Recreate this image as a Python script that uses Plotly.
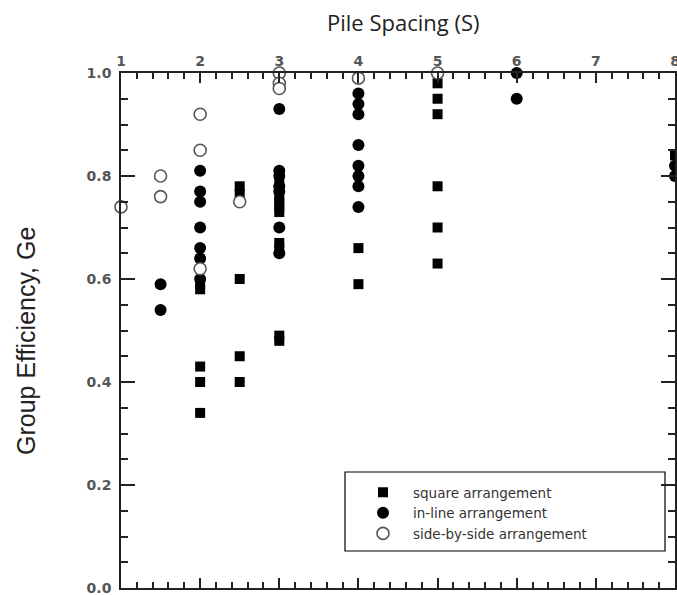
import plotly.graph_objects as go

# Square arrangement
sq_x = [2, 2, 2, 2, 2, 2.5, 2.5, 2.5, 2.5, 2.5, 3, 3, 3, 3, 3, 3, 3, 3, 3, 4, 4, 5, 5, 5, 5, 5, 5, 8]
sq_y = [0.59, 0.58, 0.43, 0.40, 0.34, 0.78, 0.765, 0.60, 0.45, 0.40,
        0.79, 0.76, 0.75, 0.74, 0.73, 0.67, 0.66, 0.49, 0.48,
        0.66, 0.59, 0.98, 0.95, 0.92, 0.78, 0.70, 0.63, 0.84]

# In-line arrangement
il_x = [1.5, 1.5, 2, 2, 2, 2, 2, 2, 2, 3, 3, 3, 3, 3, 3, 3,
        4, 4, 4, 4, 4, 4, 4, 4, 6, 6, 8, 8]
il_y = [0.59, 0.54, 0.81, 0.77, 0.75, 0.70, 0.66, 0.64, 0.60,
        0.93, 0.81, 0.80, 0.78, 0.77, 0.70, 0.65,
        0.96, 0.94, 0.92, 0.86, 0.82, 0.80, 0.78, 0.74, 1.0, 0.95, 0.82, 0.80]

# Side-by-side arrangement
sb_x = [1, 1.5, 1.5, 2, 2, 2, 2.5, 3, 3, 3, 4, 5]
sb_y = [0.74, 0.80, 0.76, 0.92, 0.85, 0.62, 0.75, 1.0, 0.98, 0.97, 0.99, 1.0]

x_ticks = [1, 2, 3, 4, 5, 6, 7, 8]
y_ticks = [0.0, 0.2, 0.4, 0.6, 0.8, 1.0]

fig = go.Figure()
fig.add_trace(go.Scatter(x=sq_x, y=sq_y, mode="markers", name="square arrangement",
                         marker=dict(symbol="square", size=10, color="black"),
                         cliponaxis=False))
fig.add_trace(go.Scatter(x=il_x, y=il_y, mode="markers", name="in-line arrangement",
                         marker=dict(symbol="circle", size=12, color="black"),
                         cliponaxis=False))
fig.add_trace(go.Scatter(x=sb_x, y=sb_y, mode="markers", name="side-by-side arrangement",
                         marker=dict(symbol="circle", size=12, color="white",
                                     line=dict(color="#555", width=1.6)),
                         cliponaxis=False))

tickfont = dict(family="DejaVu Sans", size=14, color="#555", weight="bold")
axis_common = dict(showline=True, linecolor="#222", linewidth=1.6, mirror="ticks",
                   ticks="inside", tickcolor="#222", tickwidth=1.6, showgrid=False,
                   zeroline=False, tickfont=tickfont, automargin=False,
                   ticklabeloverflow="allow")

fig.update_xaxes(range=[1, 8], side="top", tickvals=x_ticks, ticklen=10,
                 minor=dict(dtick=0.2, ticks="inside", ticklen=6, tickcolor="#222", showgrid=False),
                 ticklabelstandoff=0,
                 **axis_common)
fig.update_yaxes(range=[0, 1], tickvals=y_ticks, tickformat=".1f", ticklen=14,
                 minor=dict(dtick=0.05, ticks="inside", ticklen=7, tickcolor="#222", showgrid=False),
                 ticklabelstandoff=5,
                 **axis_common)

fig.add_annotation(text="Pile Spacing (S)", xref="paper", yref="paper",
                   x=(403 - 121) / 554, y=1 + (73 - 22) / 515, xanchor="center", yanchor="middle",
                   showarrow=False, font=dict(family="Open Sans", size=22, color="#222"))
fig.add_annotation(text="Group Efficiency, Ge", xref="paper", yref="paper",
                   x=-(121 - 26) / 554, y=(588 - 341) / 515, xanchor="center", yanchor="middle",
                   textangle=-90, showarrow=False,
                   font=dict(family="Liberation Sans", size=25, color="#222"))

# legend frame
fig.add_shape(type="rect", xref="paper", yref="paper",
              x0=(345 - 121) / 554, x1=(665 - 121) / 554,
              y0=(588 - 551) / 515, y1=(588 - 472) / 515,
              line=dict(color="black", width=1.2), fillcolor="white", layer="below")

fig.update_layout(
    width=677, height=595,
    margin=dict(l=121, r=2, t=73, b=7),
    paper_bgcolor="white", plot_bgcolor="rgba(0,0,0,0)",
    showlegend=True,
    legend=dict(x=(353 - 121) / 554, y=(588 - 477) / 515, xanchor="left", yanchor="top",
                bgcolor="rgba(0,0,0,0)", borderwidth=0,
                font=dict(family="DejaVu Sans", size=13.5, color="#333"),
                itemwidth=50, tracegroupgap=0),
)

fig.write_html("out.html", config={"displayModeBar": False},
               post_script="document.body.style.margin='0';")
